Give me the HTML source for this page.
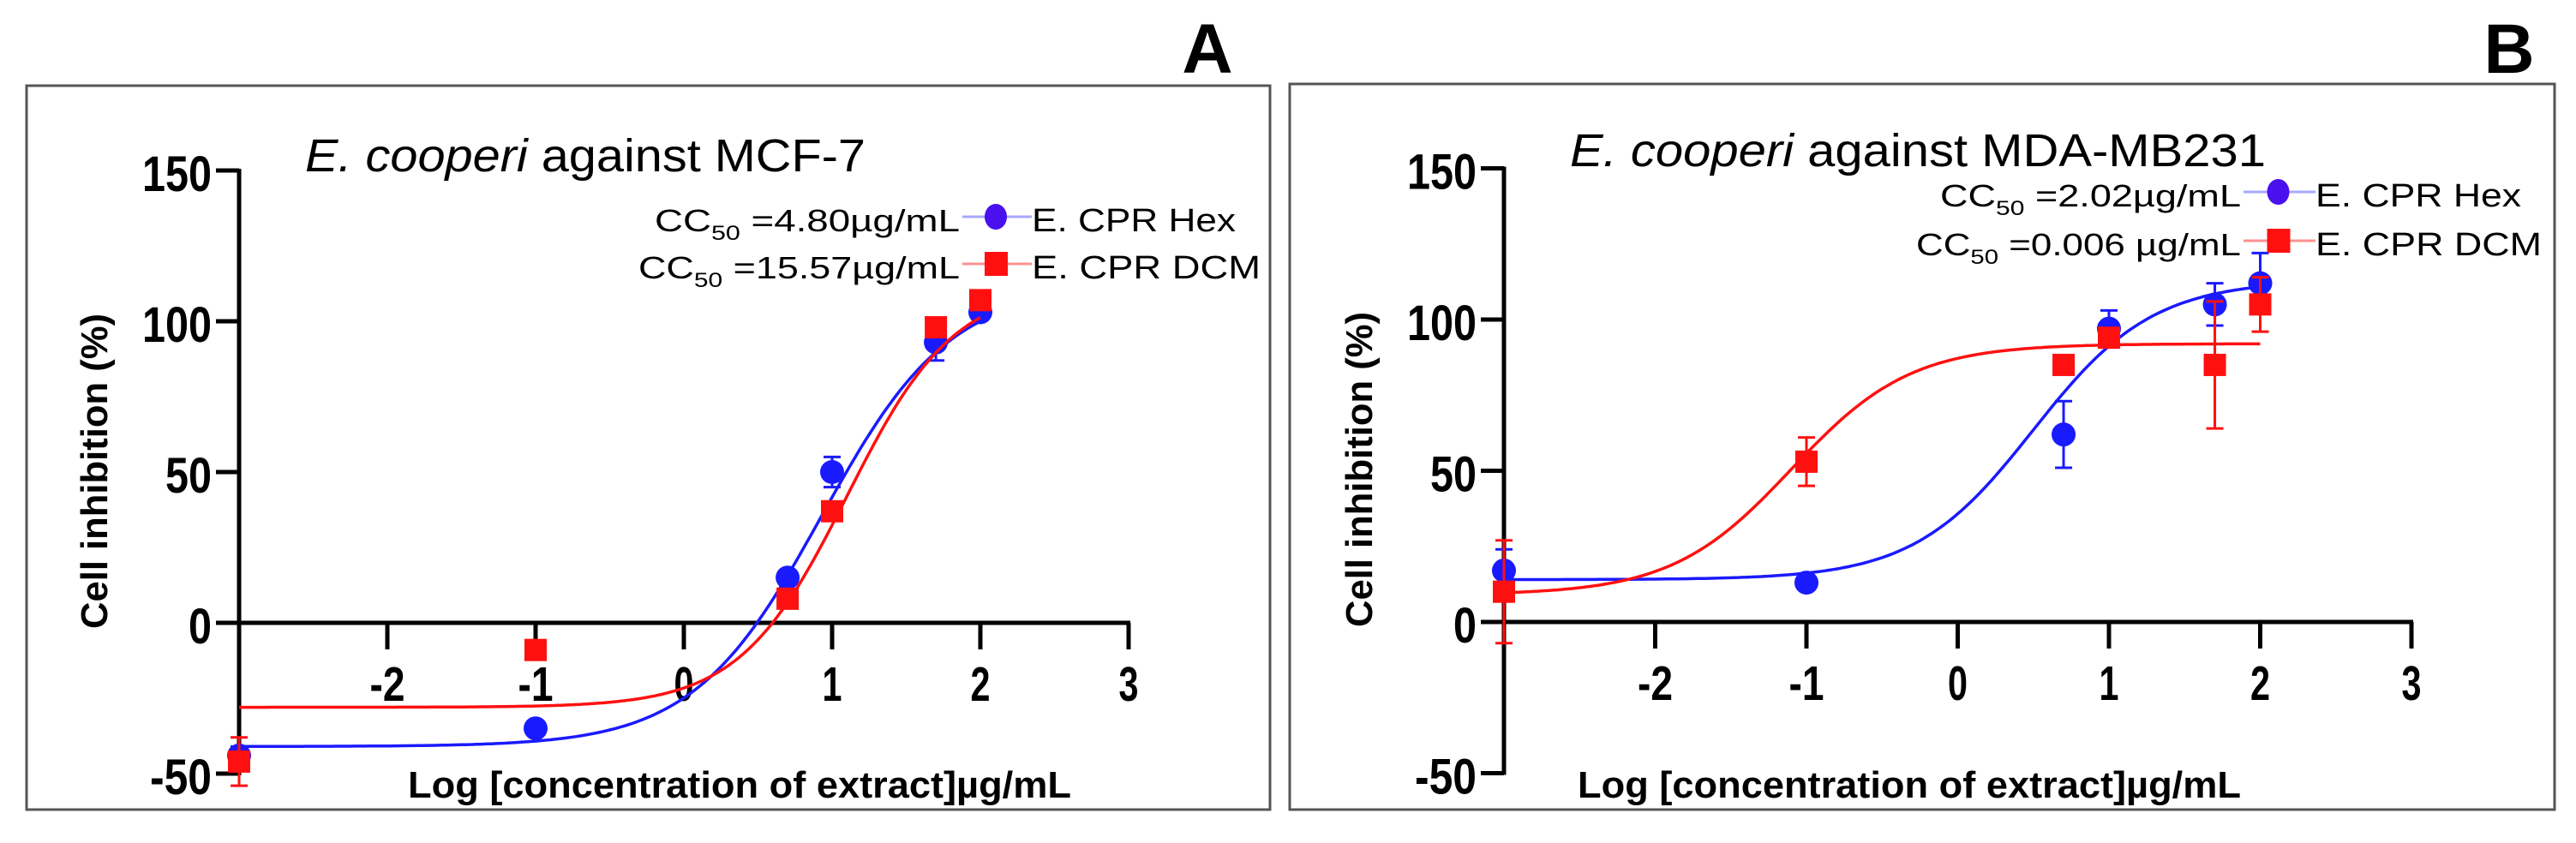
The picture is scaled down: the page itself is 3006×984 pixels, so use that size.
<!DOCTYPE html>
<html><head><meta charset="utf-8"><style>
html,body{margin:0;padding:0;background:#fff;}
svg{display:block;font-family:"Liberation Sans",Arial,sans-serif;}
</style></head><body>
<svg id="fig" width="3006" height="984" viewBox="0 0 3006 984" xmlns="http://www.w3.org/2000/svg">
<rect x="0" y="0" width="3006" height="984" fill="#fff"/>
</svg>
<script>
// Panel A data (x = log concentration)
const doseLog = [-3, -1, 0.7, 1, 1.7, 2];
const aHexValues = [-44, -35, 15, 50, 93, 103];
const aHexErrors = [3, 2, 2, 5, 6, 2];
const aDcmValues = [-46, -9, 8, 37, 98, 107];
const aDcmErrors = [8, 0, 0, 2, 2, 2];
// fitted curve params: bottom, top, logEC50, hill
const aHexFit = [-41, 112, 0.93, 1.0];
const aDcmFit = [-28, 112, 1.1, 1.2];
// Panel B data
const bHexValues = [17, 13, 62, 97, 105, 112];
const bHexErrors = [7, 1, 11, 6, 7, 10];
const bDcmValues = [10, 53, 85, 94, 85, 105];
const bDcmErrors = [17, 8, 1, 3, 21, 9];
const bHexFit = [14, 113, 0.5, 1.1];
const bDcmFit = [9, 92, -1.1, 1.1];
const yTicks = [-50, 0, 50, 100, 150];
const xTicks = [-2, -1, 0, 1, 2, 3];

const NS = 'http://www.w3.org/2000/svg';
const svg = document.getElementById('fig');
function mk(tag, attrs, parent, text) {
  const e = document.createElementNS(NS, tag);
  for (const k in attrs) e.setAttribute(k, attrs[k]);
  if (text !== undefined) e.textContent = text;
  (parent || svg).appendChild(e);
  return e;
}
function numWidth(s) {
  let w = 0;
  for (const ch of s) w += (ch === '-') ? 18 : 27;
  return w;
}

function panel(cfg) {
  const g = mk('g', {});
  
  
  const box = mk('rect', {x: cfg.box[0], y: cfg.box[1], width: cfg.box[2], height: cfg.box[3], fill: 'none', stroke: '#555', 'stroke-width': 3}, g);
  
  
  const lab = mk('text', {x: cfg.letter[0], y: 85, 'font-size': 82, 'font-weight': 'bold', 'text-anchor': 'middle'}, g, cfg.letterText);
  
  

  const X = v => cfg.x0 + (v + 3) * cfg.xs;
  const Y = v => cfg.y0 - v * cfg.ys;

  // title
  const t = mk('text', {x: cfg.title[0], y: cfg.title[1], 'font-size': 54, textLength: cfg.title[2], lengthAdjust: 'spacingAndGlyphs'}, g);
  
  
  mk('tspan', {'font-style': 'italic'}, t, 'E. cooperi');
  mk('tspan', {}, t, ' against ' + cfg.cell);

  // y axis
  const ya = mk('line', {x1: X(-3), y1: Y(-50) + 2, x2: X(-3), y2: Y(150) - 2, stroke: '#000', 'stroke-width': 5}, g);
  
  
  yTicks.forEach(v => {
    const tk = mk('line', {x1: X(-3) - 27, y1: Y(v), x2: X(-3), y2: Y(v), stroke: '#000', 'stroke-width': 5}, g);
    
    
    const s = String(v);
    const tl = mk('text', {x: X(-3) - 32, y: Y(v) + 24, 'font-size': 58, 'font-weight': 'bold', 'text-anchor': 'end', textLength: numWidth(s), lengthAdjust: 'spacingAndGlyphs'}, g, s);
    
    
  });
  // x axis at y=0
  const xa = mk('line', {x1: X(-3), y1: Y(0), x2: X(3) + 2, y2: Y(0), stroke: '#000', 'stroke-width': 5}, g);
  
  
  xTicks.forEach(v => {
    const tk = mk('line', {x1: X(v), y1: Y(0), x2: X(v), y2: Y(0) + 31, stroke: '#000', 'stroke-width': 5}, g);
    
    
    const s = String(v);
    const tl = mk('text', {x: X(v), y: Y(0) + 91, 'font-size': 57, 'font-weight': 'bold', 'text-anchor': 'middle', textLength: numWidth(s) - 4, lengthAdjust: 'spacingAndGlyphs'}, g, s);
    
    
  });
  const yt = mk('text', {x: 0, y: 0, 'font-size': 44, 'font-weight': 'bold', 'text-anchor': 'middle', textLength: 368, lengthAdjust: 'spacingAndGlyphs', transform: `translate(${cfg.ytitle[0]},${cfg.ytitle[1]}) rotate(-90)`}, g, 'Cell inhibition (%)');
  
  
  const xt = mk('text', {x: cfg.xtitle[0], y: 931, 'font-size': 44, 'font-weight': 'bold', textLength: 774, lengthAdjust: 'spacingAndGlyphs'}, g, 'Log [concentration of extract]µg/mL');
  
  

  // series
  cfg.series.forEach(s => {
    const sg = mk('g', {}, g);
    
    
    const f = s.fit;
    let d = '';
    for (let i = 0; i <= 200; i++) {
      const xv = -3 + 5 * i / 200;
      const yv = f[0] + (f[1] - f[0]) / (1 + Math.pow(10, (f[2] - xv) * f[3]));
      d += (i ? 'L' : 'M') + X(xv).toFixed(1) + ' ' + Y(yv).toFixed(1);
    }
    const c = mk('path', {d: d, fill: 'none', stroke: s.color, 'stroke-width': 3.5}, sg);
    
    
    doseLog.forEach((xv, i) => {
      const v = s.values[i], e = s.errors[i];
      if (e > 1) {
        const eb = mk('path', {d: `M${X(xv)} ${Y(v + e)}V${Y(v - e)}M${X(xv) - 10} ${Y(v + e)}h20M${X(xv) - 10} ${Y(v - e)}h20`, stroke: s.color, 'stroke-width': 3, fill: 'none'}, sg);
        
        
      }
      let m;
      if (s.shape === 'circle') m = mk('ellipse', {cx: X(xv), cy: Y(v), rx: 14, ry: 14, fill: s.color}, sg);
      else m = mk('rect', {x: X(xv) - 13, y: Y(v) - 13, width: 26, height: 26, fill: s.color}, sg);
      
      
    });
  });

  // legend
  cfg.legend.forEach((L, i) => {
    const lg = mk('g', {}, g);
    
    
    const y = L.y;
    const tx = mk('text', {x: L.textEnd, y: y + 17, 'font-size': 36, 'text-anchor': 'end', textLength: L.ccLen, lengthAdjust: 'spacingAndGlyphs'}, lg);
    mk('tspan', {}, tx, 'CC');
    mk('tspan', {'font-size': 24, dy: 10}, tx, '50');
    mk('tspan', {dy: -10}, tx, ' =' + L.cc + 'µg/mL');
    mk('line', {x1: L.textEnd + 3, y1: y, x2: L.labelX, y2: y, stroke: L.light, 'stroke-width': 3}, lg);
    const mx = (L.textEnd + L.labelX) / 2;
    if (L.shape === 'circle') mk('ellipse', {cx: mx, cy: y, rx: 13, ry: 15, fill: L.color}, lg);
    else mk('rect', {x: mx - 13, y: y - 14, width: 27, height: 28, fill: L.color}, lg);
    mk('text', {x: L.labelX, y: y + 17, 'font-size': 38, textLength: L.labLen, lengthAdjust: 'spacingAndGlyphs'}, lg, L.label);
  });
}

panel({
  name: 'panel-a', letterText: 'A', letter: [1409], box: [31, 100, 1451, 845],
  x0: 279, xs: 173, y0: 727, ys: 3.52, cell: 'MCF-7', title: [356, 200, 654],
  ytitle: [125, 550], xtitle: [476],
  series: [
    {name: 'series-hex', color: '#1a1aff', shape: 'circle', values: aHexValues, errors: aHexErrors, fit: aHexFit},
    {name: 'series-dcm', color: '#ff1010', shape: 'square', values: aDcmValues, errors: aDcmErrors, fit: aDcmFit}
  ],
  legend: [
    {y: 253, textEnd: 1120, labelX: 1204, ccLen: 356, labLen: 238, cc: '4.80', label: 'E. CPR Hex', shape: 'circle', color: '#4a10ee', light: '#a8a8ff'},
    {y: 308, textEnd: 1120, labelX: 1204, ccLen: 375, labLen: 267, cc: '15.57', label: 'E. CPR DCM', shape: 'square', color: '#ff1010', light: '#ff9090'}
  ]
});
panel({
  name: 'panel-b', letterText: 'B', letter: [2928], box: [1505, 98, 1476, 847],
  x0: 1755, xs: 176.5, y0: 726, ys: 3.53, cell: 'MDA-MB231', title: [1832, 194, 812],
  ytitle: [1601, 548], xtitle: [1841],
  series: [
    {name: 'series-hex', color: '#1a1aff', shape: 'circle', values: bHexValues, errors: bHexErrors, fit: bHexFit},
    {name: 'series-dcm', color: '#ff1010', shape: 'square', values: bDcmValues, errors: bDcmErrors, fit: bDcmFit}
  ],
  legend: [
    {y: 224, textEnd: 2615, labelX: 2702, ccLen: 351, labLen: 240, cc: '2.02', label: 'E. CPR Hex', shape: 'circle', color: '#4a10ee', light: '#a8a8ff'},
    {y: 281, textEnd: 2615, labelX: 2702, ccLen: 379, labLen: 264, cc: '0.006 ', label: 'E. CPR DCM', shape: 'square', color: '#ff1010', light: '#ff9090'}
  ]
});
</script>
</body></html>
